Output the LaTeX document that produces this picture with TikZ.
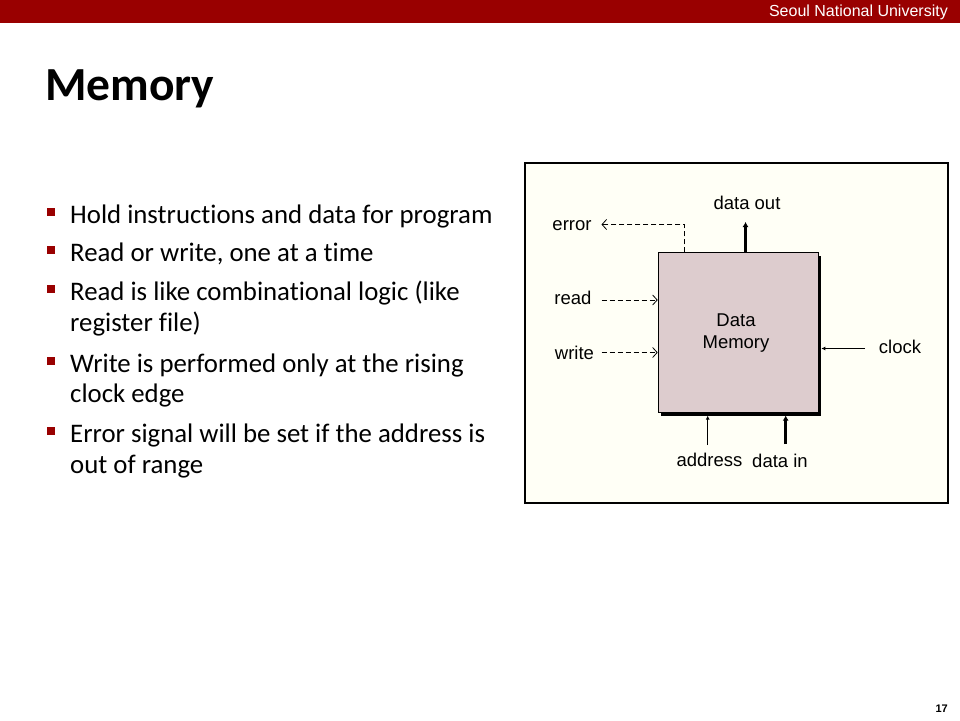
\documentclass[tikz,border=0pt]{standalone}
\usepackage{fontspec}
\setmainfont{Carlito}[Ligatures={NoCommon}]
\newfontfamily\arialf{Liberation Sans}
\usetikzlibrary{arrows.meta}
\definecolor{snured}{RGB}{153,0,0}
\definecolor{panelbg}{RGB}{255,255,246}
\definecolor{boxfill}{RGB}{221,204,206}
\tikzset{
  bulletsq/.style={fill=snured, minimum size=8pt, inner sep=0pt},
  btext/.style={anchor=base west, inner sep=0pt, font=\fontsize{26.8}{31}\selectfont},
  lbl/.style={inner sep=0pt, font=\arialf\fontsize{18.5}{20}\selectfont},
  dasharrow/.style={dashed, dash pattern=on 5pt off 3pt, line width=0.8pt, -{Straight Barb[length=4.5pt,width=10pt]}},
  thickarrow/.style={line width=3pt, -{Latex[length=5pt,width=6pt]}},
  thinarrow/.style={line width=0.8pt, -{Latex[length=4pt,width=4pt]}},
}
\begin{document}
\begin{tikzpicture}[x=1pt,y=-1pt]
\useasboundingbox (0,0) rectangle (960,720);
\fill[white] (0,0) rectangle (960,720);
% header bar
\fill[snured] (0,0) rectangle (960,23);
\node[anchor=base east, inner sep=0pt, text=white, font=\arialf\fontsize{16}{18}\selectfont] (uni) at (948,16.7) {Seoul National University};
% title
\node[anchor=base west, inner sep=0pt, font=\bfseries\fontsize{47.5}{50}\selectfont] (title) at (45,100) {Memory};
% bullets
\node[bulletsq] (b1) at (51,212) {};
\node[btext] (t1) at (70,223) {Hold instructions and data for program};
\node[bulletsq] (b2) at (51,250) {};
\node[btext] (t2) at (70,261) {Read or write, one at a time};
\node[bulletsq] (b3) at (51,289) {};
\node[btext] (t3) at (70,300) {Read is like combinational logic (like};
\node[btext] (t3b) at (70,331) {register file)};
\node[bulletsq] (b4) at (51,361) {};
\node[btext] (t4) at (70,372) {Write is performed only at the rising};
\node[btext] (t4b) at (70,402) {clock edge};
\node[bulletsq] (b5) at (51,431) {};
\node[btext] (t5) at (70,442) {Error signal will be set if the address is};
\node[btext] (t5b) at (70,473) {out of range};
% panel
\draw[line width=1.6pt, fill=panelbg] (525,163) rectangle (948,503);
% memory box with shadow
\fill[black] (661,256) rectangle (821,415.5);
\node[draw=black, line width=0.6pt, fill=boxfill, minimum width=160pt, minimum height=159.5pt, inner sep=0pt] (dmem) at (738,332.5) {};
\node[lbl, align=center, font=\arialf\fontsize{18.5}{22.5}\selectfont] (dmtext) at (736,333) {Data\\Memory};
% labels
\node[lbl] (lerror) at (572,226) {error};
\node[lbl] (ldout) at (747,203) {data out};
\node[lbl] (lread) at (573,298) {read};
\node[lbl] (lwrite) at (574.5,353) {write};
\node[lbl] (lclock) at (900,347) {clock};
\node[lbl] (laddr) at (709.5,460) {address};
\node[lbl] (ldin) at (780,461) {data in};
% connector end points
\coordinate (errc) at (684.5,224.5);
\coordinate (errtip) at (601.5,224.5);
\coordinate (douttip) at (745.5,222);
\coordinate (readstart) at (601.5,300);
\coordinate (writestart) at (601.5,352.5);
\coordinate (clkstart) at (865,348.5);
\coordinate (addrstart) at (707.7,445);
\coordinate (dinstart) at (785.7,444);
% connectors
\draw[dasharrow] (dmem.north -| errc) -- (errc) -- (errtip);
\draw[thickarrow] (dmem.north -| douttip) -- (douttip);
\draw[dasharrow] (readstart) -- (readstart -| dmem.west);
\draw[dasharrow] (writestart) -- (writestart -| dmem.west);
\draw[thinarrow] (clkstart) -- ([xshift=3pt]clkstart -| dmem.east);
\draw[thinarrow] (addrstart) -- ([yshift=-3pt]addrstart |- dmem.south);
\draw[thickarrow] (dinstart) -- ([yshift=-3pt]dinstart |- dmem.south);
% page number
\node[anchor=base east, inner sep=0pt, font=\arialf\bfseries\fontsize{11}{12}\selectfont] (pnum) at (948,712) {17};
\end{tikzpicture}
\end{document}
